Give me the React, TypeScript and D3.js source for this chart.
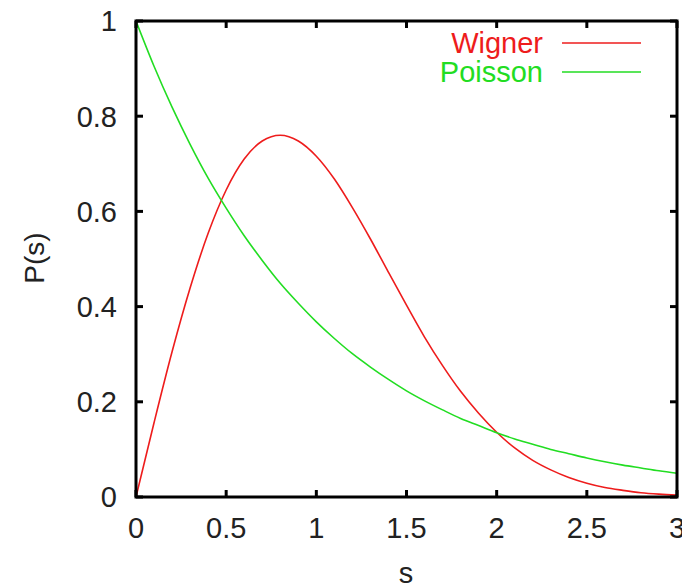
import React from "react";
import * as d3 from "d3";

const sValues = [0, 0.1, 0.2, 0.3, 0.4, 0.5, 0.6, 0.7, 0.8, 0.9, 1.0, 1.1, 1.2, 1.3, 1.4, 1.5, 1.6, 1.7, 1.8, 1.9, 2.0, 2.1, 2.2, 2.3, 2.4, 2.5, 2.6, 2.7, 2.8, 2.9, 3.0];
const wignerValues = [0, 0.156, 0.305, 0.439, 0.554, 0.645, 0.710, 0.748, 0.760, 0.748, 0.716, 0.668, 0.608, 0.542, 0.472, 0.403, 0.336, 0.276, 0.222, 0.176, 0.136, 0.103, 0.077, 0.057, 0.041, 0.029, 0.020, 0.014, 0.009, 0.006, 0.004];
const poissonValues = [1, 0.905, 0.819, 0.741, 0.670, 0.607, 0.549, 0.497, 0.449, 0.407, 0.368, 0.333, 0.301, 0.273, 0.247, 0.223, 0.202, 0.183, 0.165, 0.150, 0.135, 0.122, 0.111, 0.100, 0.091, 0.082, 0.074, 0.067, 0.061, 0.055, 0.050];
const xTicks = [0, 0.5, 1, 1.5, 2, 2.5, 3];
const yTicks = [0, 0.2, 0.4, 0.6, 0.8, 1];
const seriesNames = ["Wigner", "Poisson"];
const seriesColors = ["#ee1c1c", "#22dd22"];

export default function App() {
  const W = 682, H = 587;
  const left = 136, right = 677, top = 21, bottom = 497;
  const x = d3.scaleLinear().domain([0, 3]).range([left, right]);
  const y = d3.scaleLinear().domain([0, 1]).range([bottom, top]);
  const line = d3
    .line<[number, number]>()
    .x((d) => x(d[0]))
    .y((d) => y(d[1]))
    .curve(d3.curveMonotoneX);
  const series = [wignerValues, poissonValues].map((vals) =>
    sValues.map((s, i) => [s, vals[i]] as [number, number])
  );
  const font = "'Liberation Sans', Arial, sans-serif";
  const tickLen = 7;
  const fmt = (v: number) => String(v);
  return (
    <svg width={W} height={H} style={{ position: "absolute", left: 0, top: 0, background: "#fff" }} fontFamily={font}>
      <defs>
        <clipPath id="plotclip">
          <rect x={left} y={top} width={right - left} height={bottom - top} />
        </clipPath>
      </defs>
      <g clipPath="url(#plotclip)">
        {series.map((pts, i) => (
          <path key={i} d={line(pts) || ""} fill="none" stroke={seriesColors[i]} strokeWidth={1.6} />
        ))}
      </g>
      {/* frame */}
      <rect x={left} y={top} width={right - left} height={bottom - top} fill="none" stroke="#000" strokeWidth={3} />
      {xTicks.map((t) => (
        <g key={"x" + t}>
          <line x1={x(t)} x2={x(t)} y1={bottom} y2={bottom - tickLen} stroke="#000" strokeWidth={3} />
          <line x1={x(t)} x2={x(t)} y1={top} y2={top + tickLen} stroke="#000" strokeWidth={3} />
          <text x={x(t)} y={538} textAnchor="middle" fontSize={29} fill="#222">
            {fmt(t)}
          </text>
        </g>
      ))}
      {yTicks.map((t) => (
        <g key={"y" + t}>
          <line x1={left} x2={left + tickLen} y1={y(t)} y2={y(t)} stroke="#000" strokeWidth={3} />
          <line x1={right} x2={right - tickLen} y1={y(t)} y2={y(t)} stroke="#000" strokeWidth={3} />
          <text x={117} y={y(t)} dy="0.36em" textAnchor="end" fontSize={29} fill="#222">
            {fmt(t)}
          </text>
        </g>
      ))}
      <text x={406} y={583} textAnchor="middle" fontSize={29} fill="#222">s</text>
      <text transform="translate(44,258) rotate(-90)" textAnchor="middle" fontSize={28} fill="#222">P(s)</text>
      {seriesNames.map((name, i) => (
        <g key={name}>
          <text x={543} y={53 + i * 29} textAnchor="end" fontSize={29} fill={seriesColors[i]}>{name}</text>
          <line x1={562} x2={641} y1={43 + i * 29} y2={43 + i * 29} stroke={seriesColors[i]} strokeWidth={1.6} />
        </g>
      ))}
    </svg>
  );
}
